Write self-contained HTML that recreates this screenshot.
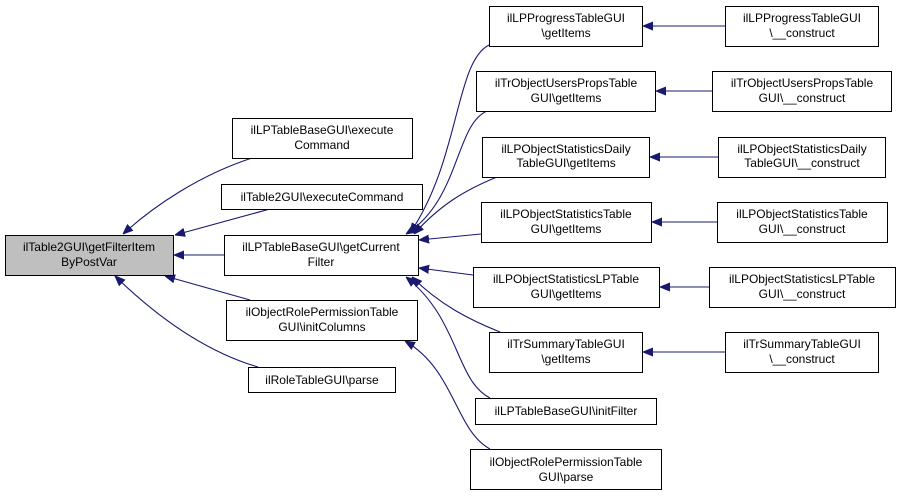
<!DOCTYPE html>
<html><head><meta charset="utf-8"><style>
html,body{margin:0;padding:0;background:#fff}
svg{display:block}
text{font-family:"Liberation Sans",Arial,sans-serif;font-size:12px;fill:#000}
</style></head><body>
<svg width="900" height="496" viewBox="0 0 900 496" xmlns="http://www.w3.org/2000/svg">
<defs>
<marker id="a" viewBox="0 0 10 10" refX="10" refY="5" markerWidth="10" markerHeight="10" markerUnits="userSpaceOnUse" orient="auto">
<path d="M0,1 L10,5 L0,9 z" fill="#191970" stroke="#191970"/>
</marker>
</defs>
<g fill="none" stroke="#191970" stroke-width="1.1" marker-end="url(#a)">
<path d="M252,158 C200,175 155,205 123,234"/>
<path d="M270,209 L175,235"/>
<path d="M224,255 L174,255"/>
<path d="M250,300 L165,276"/>
<path d="M258,367 C200,350 150,310 115,276"/>
<path d="M489,45 C455,62 460,160 410,233"/>
<path d="M487,111 C455,125 460,200 406,234"/>
<path d="M497,177 C465,190 440,205 414,234"/>
<path d="M481,234 L419,240"/>
<path d="M473,275 L419,268"/>
<path d="M500,332 C470,320 440,305 412,277"/>
<path d="M490,398 C455,380 460,320 406,277"/>
<path d="M490,449 C455,430 455,370 405,341"/>
<path d="M725,26 L643,26"/>
<path d="M712,91 L656,91"/>
<path d="M718,157 L650,157"/>
<path d="M717,222 L652,222"/>
<path d="M709,287 L660,287"/>
<path d="M725,352 L643,352"/>
</g>
<g stroke="#000" stroke-width="1">
<rect x="5.5" y="235.5" width="168" height="40" fill="#bfbfbf"/>
<g fill="#fff">
<rect x="232.5" y="118.5" width="180" height="40"/>
<rect x="221.5" y="184.5" width="201" height="25"/>
<rect x="224.5" y="235.5" width="194" height="40"/>
<rect x="226.5" y="300.5" width="191" height="40"/>
<rect x="248.5" y="367.5" width="147" height="25"/>
<rect x="489.5" y="6.5" width="153" height="40"/>
<rect x="725.5" y="6.5" width="153" height="40"/>
<rect x="476.5" y="71.5" width="179" height="40"/>
<rect x="712.5" y="71.5" width="179" height="40"/>
<rect x="482.5" y="137.5" width="167" height="40"/>
<rect x="718.5" y="137.5" width="167" height="40"/>
<rect x="481.5" y="202.5" width="170" height="40"/>
<rect x="717.5" y="202.5" width="170" height="40"/>
<rect x="473.5" y="267.5" width="186" height="40"/>
<rect x="709.5" y="267.5" width="186" height="40"/>
<rect x="489.5" y="332.5" width="153" height="40"/>
<rect x="725.5" y="332.5" width="153" height="40"/>
<rect x="475.5" y="398.5" width="181" height="26"/>
<rect x="470.5" y="449.5" width="191" height="40"/>
</g></g>
<g text-anchor="middle">
<text x="89" y="251">ilTable2GUI\getFilterItem</text><text x="89" y="266">ByPostVar</text>
<text x="322" y="134">ilLPTableBaseGUI\execute</text><text x="322" y="149">Command</text>
<text x="322" y="201">ilTable2GUI\executeCommand</text>
<text x="321" y="251">ilLPTableBaseGUI\getCurrent</text><text x="321" y="266">Filter</text>
<text x="322" y="316">ilObjectRolePermissionTable</text><text x="322" y="331">GUI\initColumns</text>
<text x="322" y="384">ilRoleTableGUI\parse</text>
<text x="566" y="22">ilLPProgressTableGUI</text><text x="566" y="37">\getItems</text>
<text x="802" y="22">ilLPProgressTableGUI</text><text x="802" y="37">\__construct</text>
<text x="566" y="87">ilTrObjectUsersPropsTable</text><text x="566" y="102">GUI\getItems</text>
<text x="802" y="87">ilTrObjectUsersPropsTable</text><text x="802" y="102">GUI\__construct</text>
<text x="566" y="153">ilLPObjectStatisticsDaily</text><text x="566" y="167">TableGUI\getItems</text>
<text x="802" y="153">ilLPObjectStatisticsDaily</text><text x="802" y="167">TableGUI\__construct</text>
<text x="566" y="218">ilLPObjectStatisticsTable</text><text x="566" y="233">GUI\getItems</text>
<text x="802" y="218">ilLPObjectStatisticsTable</text><text x="802" y="233">GUI\__construct</text>
<text x="566" y="283">ilLPObjectStatisticsLPTable</text><text x="566" y="298">GUI\getItems</text>
<text x="802" y="283">ilLPObjectStatisticsLPTable</text><text x="802" y="298">GUI\__construct</text>
<text x="566" y="348">ilTrSummaryTableGUI</text><text x="566" y="363">\getItems</text>
<text x="802" y="348">ilTrSummaryTableGUI</text><text x="802" y="363">\__construct</text>
<text x="566" y="415">ilLPTableBaseGUI\initFilter</text>
<text x="566" y="466">ilObjectRolePermissionTable</text><text x="566" y="481">GUI\parse</text>
</g>
</svg>
</body></html>
